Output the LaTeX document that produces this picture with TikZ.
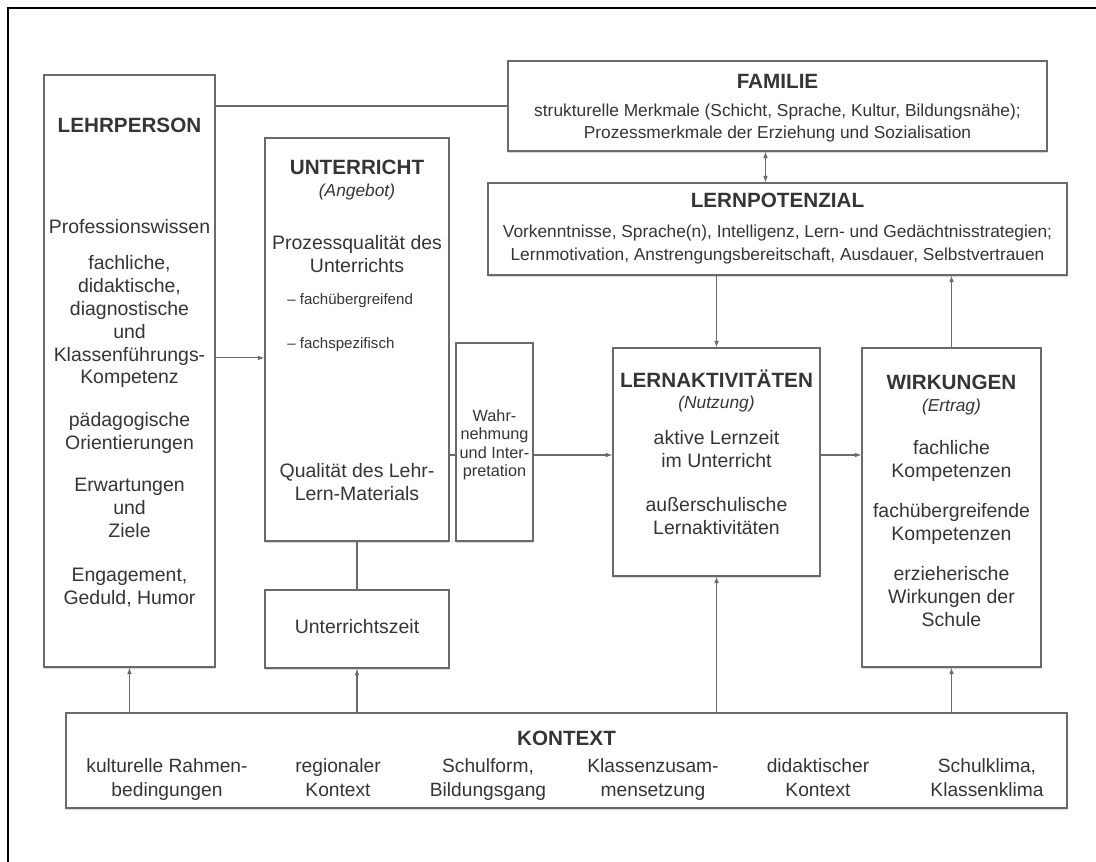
\documentclass[tikz,border=0pt]{standalone}
\usepackage{fontspec}
\setmainfont{Liberation Sans}
\usetikzlibrary{arrows.meta,fit,shadows,calc}
\definecolor{ink}{HTML}{353535}
\definecolor{rulegray}{HTML}{6A6A6A}
\newcommand{\fsz}[2]{\fontsize{#1}{#2}\selectfont}

\begin{document}
\begin{tikzpicture}[x=0.75pt,y=-0.75pt,
  box/.style={draw=rulegray, line width=0.8pt, fill=white, inner sep=0pt,
    drop shadow={shadow xshift=0.3pt, shadow yshift=-1.3pt, fill=black!30}},
  lbl/.style={text=ink, inner sep=0pt, execute at begin node=\strut, execute at end node=\strut},
  ttl/.style={lbl, font=\fsz{15.5}{18}\bfseries},
  subttl/.style={lbl, font=\fsz{13}{15}\itshape},
  body/.style={lbl, font=\fsz{14.6}{17.2}, align=center},
  wide/.style={lbl, font=\fsz{13}{16.8}, align=center},
  bullet/.style={lbl, font=\fsz{11.3}{13.5}, anchor=west},
  narrow/.style={lbl, font=\fsz{12.2}{13.8}, align=center},
  ctx/.style={lbl, font=\fsz{14.4}{18}, align=center},
  link/.style={draw=rulegray, line width=0.8pt},
  arr/.style={link, -{Latex[length=5pt,width=3.6pt]}},
  arrboth/.style={link, {Latex[length=5pt,width=3.6pt]}-{Latex[length=5pt,width=3.6pt]}},
]
\useasboundingbox (0,0) rectangle (1096,862);

% frame edges of the page
\draw[line width=2pt, black] (8,862) -- (8,8) -- (1096,8);

% boxes
\node[box, fit={(44,75) (215,667)}] (lehr) {};
\node[box, fit={(265,138) (449,541)}] (unt) {};
\node[box, fit={(265,590) (449,668)}] (uzeit) {};
\node[box, fit={(456,343) (533,541)}] (wahr) {};
\node[box, fit={(613,348) (820,576)}] (lakt) {};
\node[box, fit={(862,348) (1041,667)}] (wirk) {};
\node[box, fit={(508,61) (1047,151)}] (fam) {};
\node[box, fit={(488,183) (1067,275)}] (lpot) {};
\node[box, fit={(66,713) (1067,808)}] (ctx) {};

% LEHRPERSON
\node[ttl] (lehr-t) at (129.5,128) {LEHRPERSON};
\node[body] (lehr-a) at (129.5,229) {Professionswissen};
\node[body] (lehr-b) at (129.5,323) {fachliche,\\didaktische,\\diagnostische\\und\\Klassenführungs-\\Kompetenz};
\node[body] (lehr-c) at (129.5,434.5) {pädagogische\\Orientierungen};
\node[body] (lehr-d) at (129.5,511.5) {Erwartungen\\und\\Ziele};
\node[body] (lehr-e) at (129.5,589.5) {Engagement,\\Geduld, Humor};

% UNTERRICHT
\node[ttl] (unt-t) at (357,170) {UNTERRICHT};
\node[subttl] (unt-s) at (357,193) {(Angebot)};
\node[body] (unt-a) at (357,257) {Prozessqualität des\\Unterrichts};
\node[bullet] (unt-b) at (287,301) {– fachübergreifend};
\node[bullet] (unt-c) at (287,345) {– fachspezifisch};
\node[body] (unt-d) at (357,485.5) {Qualität des Lehr-\\Lern-Materials};
\node[body] (uzeit-t) at (357,629) {Unterrichtszeit};

% Wahrnehmung
\node[narrow] (wahr-t) at (494.5,446) {Wahr-\\nehmung\\und Inter-\\pretation};

% LERNAKTIVITÄTEN
\node[ttl] (lakt-t) at (716.5,382) {LERNAKTIVITÄTEN};
\node[subttl] (lakt-s) at (716.5,405) {(Nutzung)};
\node[body] (lakt-a) at (716.5,452) {aktive Lernzeit\\im Unterricht};
\node[body] (lakt-b) at (716.5,519) {außerschulische\\Lernaktivitäten};

% WIRKUNGEN
\node[ttl] (wirk-t) at (951.5,385) {WIRKUNGEN};
\node[subttl] (wirk-s) at (951.5,408) {(Ertrag)};
\node[body] (wirk-a) at (951.5,462) {fachliche\\Kompetenzen};
\node[body] (wirk-b) at (951.5,525) {fachübergreifende\\Kompetenzen};
\node[body] (wirk-c) at (951.5,600) {erzieherische\\Wirkungen der\\Schule};

% FAMILIE
\node[ttl] (fam-t) at (777.5,84) {FAMILIE};
\node[wide] (fam-a) at (777.5,124.5) {strukturelle Merkmale (Schicht, Sprache, Kultur, Bildungsnähe);\\Prozessmerkmale der Erziehung und Sozialisation};

% LERNPOTENZIAL
\node[ttl] (lpot-t) at (777.5,203) {LERNPOTENZIAL};
\node[wide] (lpot-a) at (777.5,246) {Vorkenntnisse, Sprache(n), Intelligenz, Lern- und Gedächtnisstrategien;\\Lernmotivation, Anstrengungsbereitschaft, Ausdauer, Selbstvertrauen};

% KONTEXT
\node[ttl] (ctx-t) at (566.5,741) {KONTEXT};
\node[ctx] (ctx-a) at (167,781) {kulturelle Rahmen-\\bedingungen};
\node[ctx] (ctx-b) at (338,781) {regionaler\\Kontext};
\node[ctx] (ctx-c) at (488,781) {Schulform,\\Bildungsgang};
\node[ctx] (ctx-d) at (653,781) {Klassenzusam-\\mensetzung};
\node[ctx] (ctx-e) at (818,781) {didaktischer\\Kontext};
\node[ctx] (ctx-f) at (987,781) {Schulklima,\\Klassenklima};

% connectors
\coordinate (lu) at ($(lehr.north east)!0.478!(lehr.south east)$);
\coordinate (mid) at (0,455);
\draw[link] (fam.west) -- (fam.west -| lehr.east);
\draw[arr] (lu) -- (lu -| unt.west);
\draw[link] (unt.south) -- (uzeit.north);
\draw[link] (unt.east |- mid) -- (wahr.west |- mid);
\draw[arr] (wahr.east |- mid) -- (lakt.west |- mid);
\draw[arr] (lakt.east |- mid) -- (wirk.west |- mid);
\draw[arrboth] ([xshift=-9pt]fam.south) -- ([xshift=-9pt]fam.south |- lpot.north);
\draw[arr] (lpot.south -| lakt.north) -- (lakt.north);
\draw[arr] (wirk.north) -- (wirk.north |- lpot.south);
\draw[arr] (ctx.north -| lehr.south) -- (lehr.south);
\draw[arr] (ctx.north -| uzeit.south) -- (uzeit.south);
\draw[arr] (ctx.north -| lakt.south) -- (lakt.south);
\draw[arr] (ctx.north -| wirk.south) -- (wirk.south);
\end{tikzpicture}
\end{document}
